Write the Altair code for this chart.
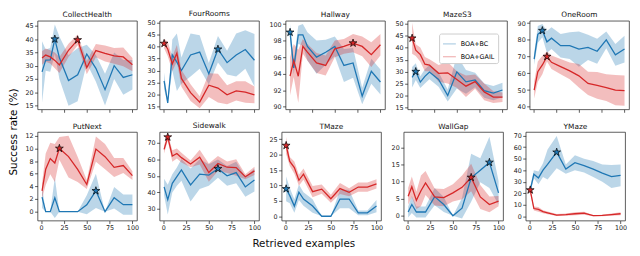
import altair as alt
import pandas as pd

# ---------------- data ----------------
X = [1, 5, 10, 15, 20, 30, 40, 50, 60, 70, 80, 90, 100]
XTICKS = [0, 25, 50, 75, 100]
METHODS = ["BOA+BC", "BOA+GAIL"]
COLORS = ["#1f77b4", "#d62728"]
Y_LABEL = "Success rate (%)"
X_LABEL = "Retrieved examples"

CH_BC = [27.7, 32.1, 32.2, 40.0, 33.0, 24.4, 26.6, 34.4, 29.0, 21.0, 30.0, 25.6, 26.6]
CH_BC_SD = [11.5, 4, 4.5, 5.5, 8, 9.5, 10, 3.5, 5, 6, 5, 6.5, 5.5]
CH_GAIL = [32.9, 34.0, 33.3, 32.0, 30.3, 35.8, 39.7, 29.3, 35.7, 34.6, 33.7, 33.3, 30.4]
CH_GAIL_SD = [2.5, 2.5, 2.5, 3, 3, 2.5, 2, 2.5, 2.5, 3, 3, 3.5, 2.5]
CH_TICKS = [15, 20, 25, 30, 35, 40, 45]

FR_BC = [25.7, 16.5, 36.5, 33.5, 30.0, 36.5, 37.7, 28.7, 38.9, 33.3, 36.5, 38.8, 34.3]
FR_BC_SD = [3.5, 0.5, 6.5, 12, 5.5, 9, 7, 4.5, 5.5, 5, 9, 8, 11]
FR_GAIL = [41.3, 39.0, 32.8, 37.2, 26.7, 20.8, 16.8, 23.9, 22.7, 19.9, 21.5, 21.0, 19.8]
FR_GAIL_SD = [2, 3, 3, 3.5, 3.5, 3.5, 2.5, 5, 6, 4, 4, 4.5, 3.5]
FR_TICKS = [15, 20, 25, 30, 35, 40, 45, 50]

HW_BC = [99.0, 94.7, 98.7, 98.7, 97.3, 96.0, 96.6, 97.3, 95.0, 95.3, 91.3, 94.3, 93.0]
HW_BC_SD = [1, 0.8, 1.1, 1.3, 1.7, 2, 1.5, 1.2, 2, 1.8, 1, 1.5, 1.5]
HW_GAIL = [93.7, 95.6, 93.7, 97.3, 96.6, 95.3, 95.0, 97.0, 97.3, 97.7, 97.3, 96.3, 97.5]
HW_GAIL_SD = [2.3, 2, 3.2, 0.9, 1, 1.2, 1.2, 1, 0.9, 1.1, 1.2, 1.5, 1.3]
HW_TICKS = [90, 92, 94, 96, 98, 100]

MZ_BC = [27.6, 30.0, 25.6, 28.0, 29.8, 26.7, 20.0, 29.9, 25.7, 26.5, 22.0, 21.0, 22.3]
MZ_BC_SD = [4.3, 3.5, 2.5, 3, 3, 3, 2.5, 7, 5, 3, 3, 3, 3]
MZ_GAIL = [44.0, 39.0, 37.1, 33.1, 32.7, 29.3, 29.5, 26.7, 23.9, 25.8, 21.5, 19.3, 19.3]
MZ_GAIL_SD = [6.5, 2.5, 3, 3, 2.5, 3.5, 4.5, 3.5, 4.5, 3, 3.5, 2.5, 2]
MZ_TICKS = [15, 20, 25, 30, 35, 40, 45, 50]

OR_BC = [68.5, 83.3, 85.5, 78.8, 81.0, 76.5, 76.5, 74.5, 75.5, 73.2, 80.0, 71.0, 74.5]
OR_BC_SD = [3.5, 5, 4, 6.5, 6.5, 7, 8, 10.5, 7.5, 7.5, 5, 6.5, 8]
OR_GAIL = [50.0, 61.0, 65.0, 70.0, 66.6, 64.0, 61.5, 58.5, 54.0, 52.8, 51.5, 50.0, 49.7]
OR_GAIL_SD = [5, 6, 5.5, 3, 4, 4.5, 5, 7, 7, 8, 8, 9, 9]
OR_TICKS = [40, 50, 60, 70, 80, 90]

PN_BC = [2.3, 0, 0, 2.2, 0, 0, 0, 1.1, 3.3, 0, 2.2, 1.1, 1.1]
PN_BC_SD = [1.7, 0, 0, 3.2, 0, 0, 0, 1.5, 2.7, 0, 1.7, 1.6, 1.6]
PN_GAIL = [3.3, 6.7, 8.4, 7.7, 10.0, 8.7, 6.7, 4.3, 9.9, 8.7, 7.0, 7.3, 5.7]
PN_GAIL_SD = [1.2, 2.5, 2.5, 3, 1.8, 3.3, 2, 0.7, 2, 2, 1.5, 1.2, 0.7]
PN_TICKS = [0, 2, 4, 6, 8, 10, 12]

SW_BC = [43.3, 35.6, 45.5, 49.5, 53.6, 44.5, 51.0, 50.5, 54.3, 50.0, 52.0, 43.3, 47.5]
SW_BC_SD = [5, 9, 5.5, 5.5, 6.5, 10, 9, 6.5, 5.5, 6, 6.5, 6, 7]
SW_GAIL = [66.0, 73.4, 62.0, 63.5, 61.0, 57.2, 61.3, 52.0, 57.5, 55.2, 55.0, 49.5, 53.0]
SW_GAIL_SD = [2.5, 2, 3.5, 3, 3, 2, 4.5, 5.5, 4.5, 3.5, 5, 1.5, 2.5]
SW_TICKS = [30, 40, 50, 60, 70]

TM_BC = [8.9, 6.7, 3.3, 7.8, 5.6, 3.3, 0, 0, 5.6, 5.6, 1.1, 1.1, 3.3]
TM_BC_SD = [4, 2.5, 2.2, 2.5, 2.2, 2.2, 0, 0, 3, 3, 0.8, 0.8, 2]
TM_GAIL = [23.0, 17.8, 15.8, 11.7, 13.7, 8.0, 8.8, 5.7, 9.0, 7.8, 9.5, 9.5, 10.5]
TM_GAIL_SD = [2.8, 1.5, 2, 1.8, 1.8, 1.8, 1.5, 1.3, 1.8, 1.3, 1.5, 1.5, 1.5]
TM_TICKS = [0, 5, 10, 15, 20, 25]

WG_BC = [1.1, 3.3, 1.1, 1.1, 1.1, 5.6, 3.3, 0, 2.2, 11.1, 13.3, 15.6, 6.7]
WG_BC_SD = [1.6, 2.5, 1.6, 1.6, 1.6, 2.5, 2.2, 0, 3, 7, 3.5, 7.5, 3.5]
WG_GAIL = [5.7, 8.5, 4.5, 7.3, 9.6, 5.5, 5.3, 6.7, 8.3, 11.2, 5.5, 3.3, 4.3]
WG_GAIL_SD = [2.5, 3, 2.5, 4.5, 3.5, 2.5, 2.5, 2.5, 3.5, 4, 3.5, 2.3, 1.5]
WG_TICKS = [0, 5, 10, 15, 20]

YM_BC = [22.8, 36.5, 33.3, 40.0, 45.0, 55.6, 41.0, 46.5, 44.0, 41.0, 37.5, 34.5, 35.5]
YM_BC_SD = [2.5, 3.5, 5.5, 6, 13, 14, 4, 6.5, 6, 7, 7.5, 10, 9.5]
YM_GAIL = [22.8, 6.7, 6.0, 4.0, 3.0, 1.1, 1.5, 2.2, 2.7, 0.5, 0.7, 1.5, 2.2]
YM_GAIL_SD = [2.5, 1.7, 2, 1.3, 1.2, 0.8, 1, 1.2, 1.3, 0.5, 0.7, 1, 1.2]
YM_TICKS = [0, 10, 20, 30, 40, 50, 60, 70]

Y_DOMAINS = {
    "CollectHealth": [13.6, 46.9], "FourRooms": [13.8, 50.8], "Hallway": [89.7, 100.4],
    "MazeS3": [14.2, 51.3], "OneRoom": [38.5, 91.4], "PutNext": [-1.4, 12.6],
    "Sidewalk": [23.0, 76.5], "TMaze": [-1.4, 27.4], "WallGap": [-1.4, 24.5],
    "YMaze": [-3.7, 73.2],
}
X_DOMAIN = [-3.95, 104.95]

# five-pointed star as an SVG path in unit coordinates (Vega has no built-in star)
STAR = ("M0,-1L0.2245,-0.309L0.951,-0.309L0.363,0.118L0.588,0.809L0,0.382"
        "L-0.588,0.809L-0.363,0.118L-0.951,-0.309L-0.2245,-0.309Z")

# ---------------- layout ----------------
W, H = 101, 90
S_H, S_V = 6, 0
YLAB_W, S_YLAB = 12, 4
FONT = "DejaVu Sans"
LEG = alt.Legend(title=None, orient="none", legendX=438, legendY=13)


def build_dfs(bc, bc_sd, gail, gail_sd):
    recs, best = [], []
    for method, m, s in ((METHODS[0], bc, bc_sd), (METHODS[1], gail, gail_sd)):
        mx = max(m)
        for xi, mi, si in zip(X, m, s):
            rec = {"xv": float(xi), "avg": float(mi), "lo": float(mi - si),
                   "hi": float(mi + si), "method": method}
            recs.append(rec)
            if mi == mx:
                best.append(rec)
    return pd.DataFrame(recs), pd.DataFrame(best)


def panel(title, bc, bc_sd, gail, gail_sd, yticks, xlabels):
    df, best = build_dfs(bc, bc_sd, gail, gail_sd)
    xs = alt.Scale(domain=X_DOMAIN, nice=False, zero=False)
    ys = alt.Scale(domain=Y_DOMAINS[title], nice=False, zero=False)
    if xlabels:
        xax = alt.Axis(values=XTICKS, title=None)
    else:
        xax = alt.Axis(values=XTICKS, title=None, labelColor="white")
    yax = alt.Axis(values=yticks, title=None)
    cs = alt.Scale(domain=METHODS, range=COLORS)
    col = alt.Color("method:N", scale=cs, legend=LEG)
    band = alt.Chart(df).mark_area(opacity=0.3).encode(
        x=alt.X("xv:Q", scale=xs, axis=xax),
        y=alt.Y("lo:Q", scale=ys, axis=yax),
        y2="hi:Q",
        color=col,
    )
    line = alt.Chart(df).mark_line(strokeWidth=1.3).encode(
        x=alt.X("xv:Q", scale=xs, axis=xax),
        y=alt.Y("avg:Q", scale=ys, axis=yax),
        color=col,
    )
    star = alt.Chart(best).mark_point(
        shape=STAR, filled=True, size=70, stroke="black", strokeWidth=0.7, opacity=1
    ).encode(
        x=alt.X("xv:Q", scale=xs, axis=xax),
        y=alt.Y("avg:Q", scale=ys, axis=yax),
        color=col,
    )
    return alt.layer(band, line, star).properties(
        title=alt.TitleParams(title, fontSize=7.5, offset=2), width=W, height=H)


top = [
    panel("CollectHealth", CH_BC, CH_BC_SD, CH_GAIL, CH_GAIL_SD, CH_TICKS, False),
    panel("FourRooms", FR_BC, FR_BC_SD, FR_GAIL, FR_GAIL_SD, FR_TICKS, False),
    panel("Hallway", HW_BC, HW_BC_SD, HW_GAIL, HW_GAIL_SD, HW_TICKS, False),
    panel("MazeS3", MZ_BC, MZ_BC_SD, MZ_GAIL, MZ_GAIL_SD, MZ_TICKS, False),
    panel("OneRoom", OR_BC, OR_BC_SD, OR_GAIL, OR_GAIL_SD, OR_TICKS, False),
]
bottom = [
    panel("PutNext", PN_BC, PN_BC_SD, PN_GAIL, PN_GAIL_SD, PN_TICKS, True),
    panel("Sidewalk", SW_BC, SW_BC_SD, SW_GAIL, SW_GAIL_SD, SW_TICKS, True),
    panel("TMaze", TM_BC, TM_BC_SD, TM_GAIL, TM_GAIL_SD, TM_TICKS, True),
    panel("WallGap", WG_BC, WG_BC_SD, WG_GAIL, WG_GAIL_SD, WG_TICKS, True),
    panel("YMaze", YM_BC, YM_BC_SD, YM_GAIL, YM_GAIL_SD, YM_TICKS, True),
]

row1 = alt.hconcat(*top, spacing=S_H)
row2 = alt.hconcat(*bottom, spacing=S_H)
rows = alt.vconcat(row1, row2, spacing=S_V)

ylab = alt.Chart(pd.DataFrame({"t": [Y_LABEL]})).mark_text(
    angle=270, fontSize=10.5, align="center", baseline="middle", color="black"
).encode(
    text="t:N", x=alt.value(YLAB_W / 2), y=alt.value(113)
).properties(width=YLAB_W, height=2 * H + 40, view=alt.ViewBackground(strokeOpacity=0))

chart = (
    alt.hconcat(ylab, rows, spacing=S_YLAB)
    .properties(
        padding=0,
        title=alt.TitleParams(X_LABEL, orient="bottom", anchor="middle", fontSize=10.5,
                              offset=2, dx=-16),
    )
    .configure(font=FONT)
    .configure_view(stroke="#333333", strokeWidth=0.8)
    .configure_axis(grid=False, domain=False, tickSize=3, tickColor="#333333",
                    tickWidth=0.8, labelFontSize=6.5, labelColor="#222222",
                    labelPadding=1.5)
    .configure_title(fontWeight="normal", color="#111111")
    .configure_legend(symbolType="stroke", labelFontSize=6.5, padding=3, rowPadding=2,
                      strokeColor="#cccccc", fillColor="white", cornerRadius=2,
                      symbolSize=170, symbolStrokeWidth=1.4, labelOffset=4)
)

chart.save("out.html", embed_options={"renderer": "svg", "actions": False})
